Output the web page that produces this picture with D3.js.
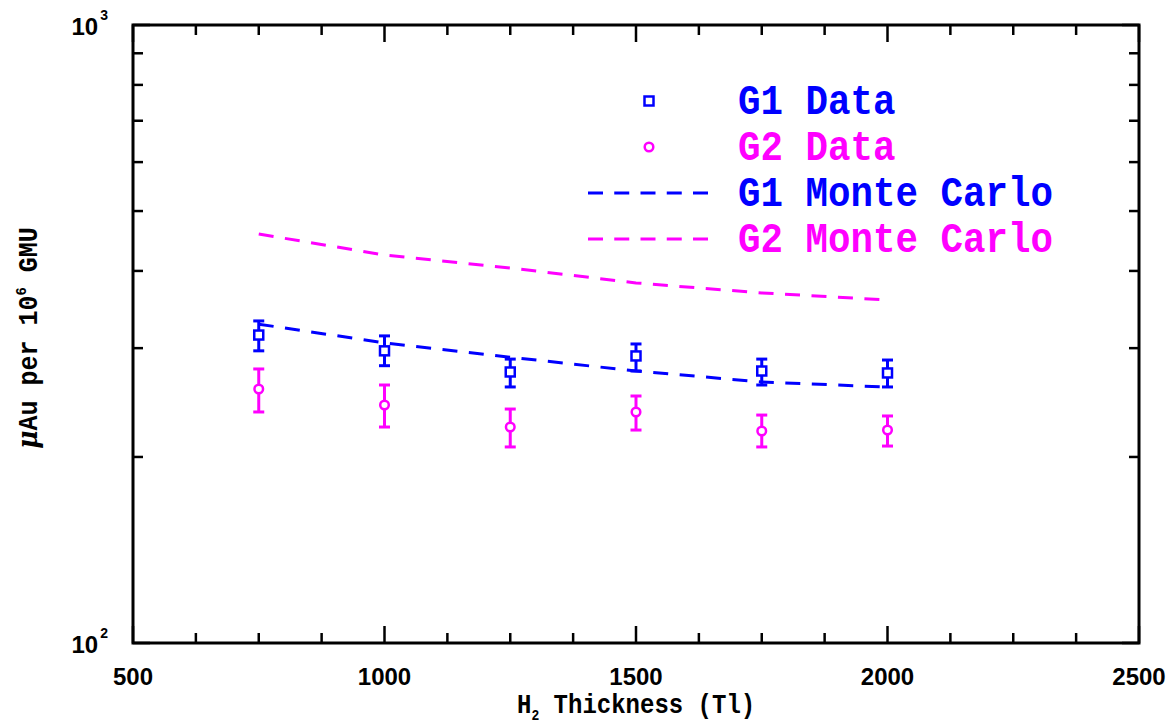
<!DOCTYPE html>
<html>
<head>
<meta charset="utf-8">
<script src="https://cdn.jsdelivr.net/npm/d3@7"></script>
<style>
  html, body { margin: 0; padding: 0; background: #fff; }
  svg { display: block; }
</style>
</head>
<body>
<div id="chart"></div>
<script>
  // thickness points (Tl)
  const thickness = [750, 1000, 1250, 1500, 1750, 2000];

  // G1 data: value, lower, upper
  const g1Data = [315, 297, 274.5, 291.4, 275.5, 273.5];
  const g1Low = [297, 281, 259.6, 275.5, 261.5, 259.6];
  const g1High = [332, 314, 288, 304.7, 288, 287];

  // G2 data
  const g2Data = [257.6, 242.7, 223.6, 236.5, 220.3, 221.1];
  const g2Low = [236.5, 223.6, 207.6, 221.1, 207.6, 208.3];
  const g2High = [277.6, 261.5, 239.1, 251, 233.8, 233];

  // Monte Carlo curves
  const g1MC = [328, 306, 290, 275.5, 264.5, 259.5];
  const g2MC = [459, 424.5, 404.4, 382.5, 368.5, 359];

  const xTicksMajor = [500, 1000, 1500, 2000, 2500];
  const xTicksMinor = d3.range(500, 2501, 125);
  const yTicksMinor = [200, 300, 400, 500, 600, 700, 800, 900];
  const yTicksMajor = [100, 1000];

  const legendItems = [
    { label: "G1 Data", color: "#0000ff", kind: "square" },
    { label: "G2 Data", color: "#ff00ff", kind: "circle" },
    { label: "G1 Monte Carlo", color: "#0000ff", kind: "dash" },
    { label: "G2 Monte Carlo", color: "#ff00ff", kind: "dash" },
  ];

  const BLUE = "#0000ff";
  const MAGENTA = "#ff00ff";
  const width = 1176;
  const height = 723;
  const margin = { top: 25, right: 37, bottom: 80, left: 133 };
  const monoFont = "'Liberation Mono', 'DejaVu Sans Mono', monospace";
  const tickFont = "'Liberation Sans', Arial, sans-serif";
  const dashPattern = "15,11.5";

  const svg = d3.select("#chart").append("svg").attr("width", width).attr("height", height);

  const x = d3.scaleLinear().domain([500, 2500]).range([margin.left, width - margin.right]);
  const y = d3.scaleLog().domain([100, 1000]).range([height - margin.bottom, margin.top]);

  const x0 = x.range()[0], x1 = x.range()[1];
  const yb = y.range()[0], yt = y.range()[1];

  // ticks (inward on all four sides)
  const ticks = svg.append("g").attr("stroke", "#000").attr("stroke-width", 2.5);
  xTicksMinor.forEach((v) => {
    const len = xTicksMajor.includes(v) ? 17 : 10;
    ticks.append("line").attr("x1", x(v)).attr("x2", x(v)).attr("y1", yb).attr("y2", yb - len);
    ticks.append("line").attr("x1", x(v)).attr("x2", x(v)).attr("y1", yt).attr("y2", yt + len);
  });
  yTicksMinor.concat(yTicksMajor).forEach((v) => {
    const len = yTicksMajor.includes(v) ? 17 : 10;
    ticks.append("line").attr("x1", x0).attr("x2", x0 + len).attr("y1", y(v)).attr("y2", y(v));
    ticks.append("line").attr("x1", x1).attr("x2", x1 - len).attr("y1", y(v)).attr("y2", y(v));
  });

  // frame
  svg
    .append("rect")
    .attr("x", x0)
    .attr("y", yt)
    .attr("width", x1 - x0)
    .attr("height", yb - yt)
    .attr("fill", "none")
    .attr("stroke", "#000")
    .attr("stroke-width", 3);

  // x tick labels
  svg
    .append("g")
    .selectAll("text")
    .data(xTicksMajor)
    .join("text")
    .attr("x", (d) => x(d))
    .attr("y", yb + 42)
    .attr("text-anchor", "middle")
    .attr("font-family", tickFont)
    .attr("font-weight", "bold")
    .attr("font-size", 24)
    .text((d) => d);

  // y tick labels 10^2, 10^3
  yTicksMajor.forEach((v) => {
    const t = svg
      .append("text")
      .attr("x", x0 - 25)
      .attr("y", y(v) + 10)
      .attr("text-anchor", "end")
      .attr("font-family", tickFont)
      .attr("font-weight", "bold")
      .attr("font-size", 24);
    t.append("tspan").text("10");
    t.append("tspan").attr("dy", -15).attr("dx", 2).attr("font-size", 14).text(String(Math.round(Math.log10(v))));
  });

  // axis titles
  const xTitle = svg
    .append("text")
    .attr("transform", `translate(517, 713) scale(1,1.15)`)
    .attr("font-family", monoFont)
    .attr("font-weight", "bold")
    .attr("font-size", 24);
  xTitle.append("tspan").text("H");
  xTitle.append("tspan").attr("dy", 6).attr("font-size", 13).text("2");
  xTitle.append("tspan").attr("dy", -6).text(" Thickness (Tl)");

  const yTitle = svg
    .append("text")
    .attr("transform", `translate(37, ${(yt + yb) / 2 + 4}) rotate(-90) scale(1,1.1)`)
    .attr("text-anchor", "middle")
    .attr("font-family", monoFont)
    .attr("font-weight", "bold")
    .attr("font-size", 25);
  yTitle.append("tspan").attr("font-style", "italic").attr("font-family", "'DejaVu Serif', serif").text("\u03bc");
  yTitle.append("tspan").text("Au per 10");
  yTitle.append("tspan").attr("dy", -10).attr("font-size", 14).text("6");
  yTitle.append("tspan").attr("dy", 10).text(" GMU");

  // Monte Carlo dashed curves
  const line = d3
    .line()
    .x((d) => x(d[0]))
    .y((d) => y(d[1]));

  [[g1MC, BLUE], [g2MC, MAGENTA]].forEach(([vals, color]) => {
    svg
      .append("path")
      .attr("d", line(thickness.map((t, i) => [t, vals[i]])))
      .attr("fill", "none")
      .attr("stroke", color)
      .attr("stroke-width", 3)
      .attr("stroke-dasharray", dashPattern);
  });

  // error bars + markers
  function drawSeries(vals, lows, highs, color, kind) {
    const g = svg.append("g").attr("stroke", color).attr("fill", "none");
    thickness.forEach((t, i) => {
      const cx = x(t);
      g.append("line").attr("x1", cx).attr("x2", cx).attr("y1", y(lows[i])).attr("y2", y(highs[i])).attr("stroke-width", 3);
      [lows[i], highs[i]].forEach((v) => {
        g.append("line").attr("x1", cx - 5.5).attr("x2", cx + 5.5).attr("y1", y(v)).attr("y2", y(v)).attr("stroke-width", 3);
      });
      drawMarker(g, cx, y(vals[i]), kind);
    });
  }

  function drawMarker(g, cx, cy, kind) {
    if (kind === "square") {
      g.append("rect").attr("x", cx - 4.5).attr("y", cy - 4.5).attr("width", 9).attr("height", 9).attr("fill", "#fff").attr("stroke-width", 2.5);
    } else {
      g.append("circle").attr("cx", cx).attr("cy", cy).attr("r", 4.3).attr("fill", "#fff").attr("stroke-width", 2.5);
    }
  }

  drawSeries(g1Data, g1Low, g1High, BLUE, "square");
  drawSeries(g2Data, g2Low, g2High, MAGENTA, "circle");

  // legend
  const legend = svg.append("g");
  legendItems.forEach((item, i) => {
    const rowY = 114 + i * 46;
    const g = legend.append("g").attr("stroke", item.color).attr("fill", "none");
    if (item.kind === "dash") {
      g.append("line")
        .attr("x1", 588)
        .attr("x2", 708)
        .attr("y1", rowY - 13)
        .attr("y2", rowY - 13)
        .attr("stroke-width", 3)
        .attr("stroke-dasharray", "15,11.25");
    } else {
      drawMarker(g, 649, rowY - 13, item.kind);
    }
    legend
      .append("text")
      .attr("transform", `translate(738, ${rowY}) scale(1,1.12)`)
      .attr("font-family", monoFont)
      .attr("font-weight", "bold")
      .attr("font-size", 37.5)
      .attr("fill", item.color)
      .text(item.label);
  });
</script>
</body>
</html>
